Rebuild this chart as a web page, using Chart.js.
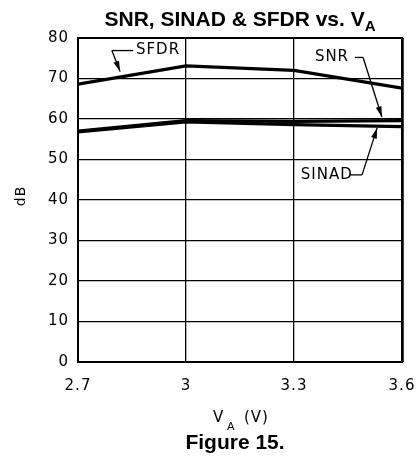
<!DOCTYPE html>
<html><head><meta charset="utf-8">
<script src="https://cdn.jsdelivr.net/npm/chart.js@4"></script>
<style>html,body{margin:0;padding:0;background:#fff;overflow:hidden}#wrap{width:416px;height:457px}</style>
</head><body><div id="wrap"><canvas id="c"></canvas></div>
<script>
const voltages = [2.7, 3.0, 3.3, 3.6];
const xTickLabels = ["2.7", "3", "3.3", "3.6"];
const yTickValues = [0, 10, 20, 30, 40, 50, 60, 70, 80];
const sfdr = [68.6, 73.1, 72.0, 67.6];
const snr = [57.0, 59.6, 59.4, 59.6];
const sinad = [56.8, 59.3, 58.6, 58.1];

const FONT = "'DejaVu Sans', sans-serif";
const BOLD = "'Liberation Sans', Arial, sans-serif";

function pts(arr){ return voltages.map((v,i)=>({x:v,y:arr[i]})); }

const spacing = {
  id: 'spacing',
  beforeDraw(chart){ chart.ctx.letterSpacing = '1px'; }
};

const decor = {
  id: 'decor',
  afterDraw(chart){
    const ctx = chart.ctx, a = chart.chartArea, xs = chart.scales.x, ys = chart.scales.y;
    ctx.save();
    ctx.strokeStyle = '#000'; ctx.lineWidth = 2;
    ctx.strokeRect(a.left, a.top, a.right - a.left, a.bottom - a.top);
    ctx.beginPath(); ctx.moveTo(a.right + 0.5, a.top); ctx.lineTo(a.right + 0.5, a.bottom); ctx.lineWidth = 2.5; ctx.stroke();
    ctx.fillStyle = '#000';
    const cx = (a.left + a.right) / 2;
    // Title with subscript
    ctx.letterSpacing = '0px';
    const t1 = "SNR, SINAD & SFDR vs. V";
    ctx.font = "bold 21px " + BOLD;
    const w1 = ctx.measureText(t1).width;
    ctx.font = "bold 15px " + BOLD;
    const w2 = ctx.measureText("A").width;
    let sx = cx - (w1 + w2) / 2;
    ctx.textBaseline = 'alphabetic'; ctx.textAlign = 'left';
    ctx.font = "bold 21px " + BOLD;
    ctx.fillText(t1, sx, 26);
    ctx.font = "bold 15px " + BOLD;
    ctx.fillText("A", sx + w1, 31);
    // caption
    ctx.textAlign = 'center';
    ctx.font = "bold 21px " + BOLD;
    ctx.fillText("Figure 15.", 235, 449);
    // X axis title
    ctx.letterSpacing = '1px';
    ctx.textAlign = 'left';
    const ax = cx - 27;
    ctx.font = "15px " + FONT; ctx.fillText("V", ax, 422);
    ctx.font = "11px " + FONT; ctx.fillText("A", ax + 14, 430);
    ctx.font = "15px " + FONT; ctx.fillText("(V)", ax + 31, 422);
    // Y axis title
    ctx.save();
    ctx.translate(21.5, 196);
    ctx.rotate(-Math.PI / 2);
    ctx.font = "14px " + FONT; ctx.textAlign = 'center'; ctx.textBaseline = 'middle';
    ctx.fillText("dB", 0, 0);
    ctx.restore();

    // annotations
    const arrow = (x1, y1, x2, y2) => {
      ctx.beginPath(); ctx.moveTo(x1, y1); ctx.lineTo(x2, y2); ctx.lineWidth = 1.3; ctx.stroke();
      const ang = Math.atan2(y2 - y1, x2 - x1), L = 11, W = 0.27;
      ctx.beginPath();
      ctx.moveTo(x2, y2);
      ctx.lineTo(x2 - L * Math.cos(ang - W), y2 - L * Math.sin(ang - W));
      ctx.lineTo(x2 - L * Math.cos(ang + W), y2 - L * Math.sin(ang + W));
      ctx.closePath(); ctx.fill();
    };
    const px = v => xs.getPixelForValue(v), py = v => ys.getPixelForValue(v);
    const hline = (x1, x2, y) => { ctx.beginPath(); ctx.moveTo(x1, y); ctx.lineTo(x2, y); ctx.lineWidth = 1.3; ctx.stroke(); };
    ctx.font = "15px " + FONT; ctx.textAlign = 'left'; ctx.textBaseline = 'middle';
    // SFDR
    let ly = py(76.9);
    ctx.fillText("SFDR", px(2.861), ly);
    hline(px(2.794), px(2.853), ly);
    arrow(px(2.794), ly, px(2.817), py(71.7));
    // SNR
    ly = py(75.2);
    ctx.fillText("SNR", px(3.358), ly);
    hline(px(3.469), px(3.492), ly);
    arrow(px(3.492), ly, px(3.544), py(60.5));
    // SINAD
    ly = py(46.2);
    ctx.fillText("SINAD", px(3.319), ly);
    hline(px(3.456), px(3.489), ly);
    arrow(px(3.489), ly, px(3.531), py(57.8));
    ctx.restore();
  }
};

const lineDs = (label, arr) => ({
  label, data: pts(arr), borderColor: '#000', backgroundColor: '#000',
  borderWidth: 3.2, pointRadius: 0, tension: 0, fill: false
});

new Chart(document.getElementById('c'), {
  type: 'line',
  data: { datasets: [lineDs('SFDR', sfdr), lineDs('SNR', snr), lineDs('SINAD', sinad)] },
  options: {
    responsive: true, maintainAspectRatio: false, animation: false,
    layout: { padding: { left: 0, right: 14, top: 38, bottom: 0 } },
    plugins: { legend: { display: false }, tooltip: { enabled: false }, title: { display: false } },
    scales: {
      x: {
        type: 'linear', min: 2.7, max: 3.6,
        afterBuildTicks: s => { s.ticks = voltages.map(v => ({ value: v })); },
        afterFit: s => { s.height = 457 - 362; s.paddingLeft = 0; s.paddingRight = 0; },
        ticks: {
          color: '#000', font: { family: FONT, size: 15 }, padding: 15, maxRotation: 0, autoSkip: false,
          callback: (v, i) => xTickLabels[i]
        },
        grid: { color: '#000', lineWidth: 1.3, drawTicks: false },
        border: { display: false }
      },
      y: {
        min: 0, max: 80,
        afterBuildTicks: s => { s.ticks = yTickValues.map(v => ({ value: v })); },
        afterFit: s => { s.width = 78; s.paddingTop = 0; s.paddingBottom = 0; },
        ticks: { color: '#000', font: { family: FONT, size: 15 }, padding: 9 },
        grid: { color: '#000', lineWidth: 1.3, drawTicks: false },
        border: { display: false }
      }
    }
  },
  plugins: [spacing, decor]
});
</script></body></html>
